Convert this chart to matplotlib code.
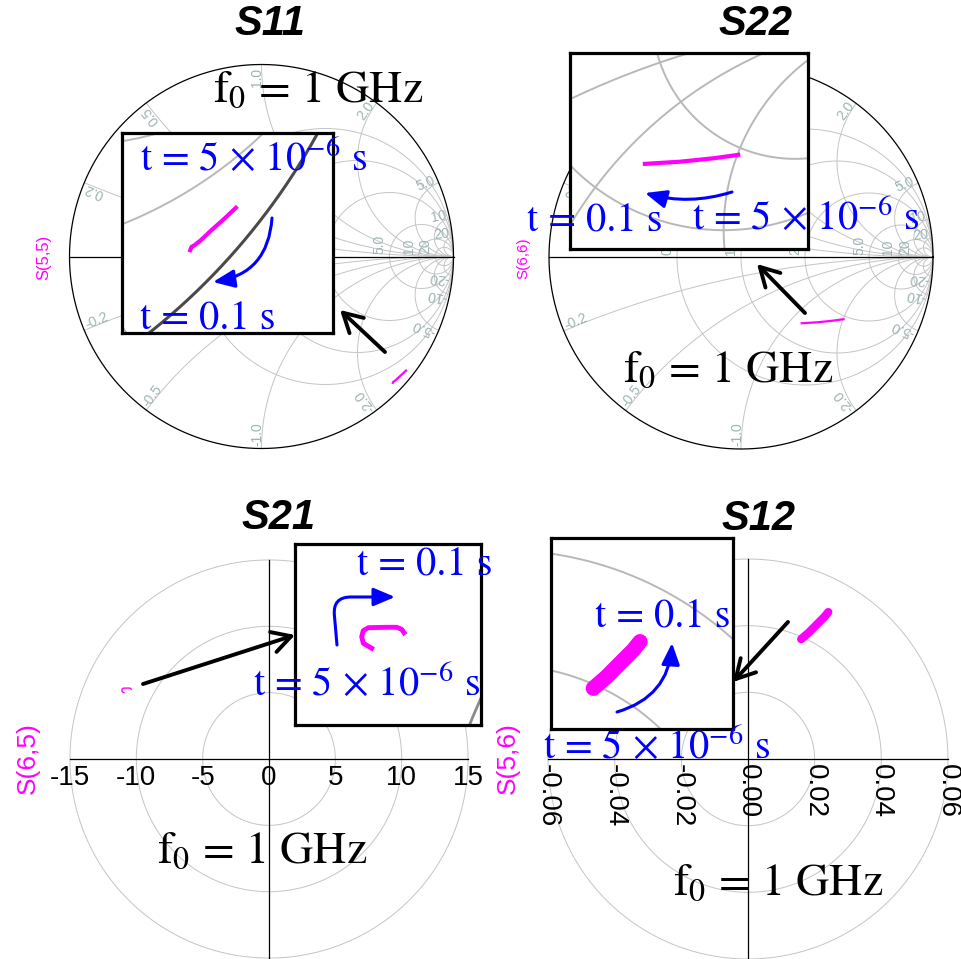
import numpy as np
import matplotlib.pyplot as plt
from matplotlib.patches import FancyArrowPatch

plt.rcParams['font.family'] = 'Liberation Sans'
plt.rcParams['mathtext.fontset'] = 'stix'

# traces from t = 5e-6 s to t = 0.1 s
s11_re = [0.753, 0.735, 0.717, 0.700, 0.690, 0.686, 0.684]
s11_im = [-0.594, -0.611, -0.627, -0.643, -0.651, -0.653, -0.658]
s22_re = [0.534, 0.476, 0.398, 0.316]
s22_im = [-0.324, -0.332, -0.340, -0.345]
s21_re = [-10.925, -11.066, -11.093, -11.066, -10.982, -10.674, -10.507, -10.423, -10.384]
s21_im = [4.993, 5.077, 5.187, 5.288, 5.338, 5.345, 5.345, 5.311, 5.254]
s12_re = [0.01596, 0.01829, 0.0206, 0.02291, 0.02408]
s12_im = [0.03596, 0.03798, 0.04031, 0.04262, 0.04407]

# smith chart grid
smith_r = [0.5, 1, 2, 5, 10, 20]
smith_x = [0.2, 0.5, 1, 2, 5, 10, 20]
smith_r_labels = [0.5, 1, 2, 5, 10, 20]

# polar grids
s21_rings = [5, 10, 15]
s21_ticks = [-15, -10, -5, 0, 5, 10, 15]
s21_ticklabels = ['-15', '-10', '-5', '0', '5', '10', '15']
s12_rings = [0.02, 0.04, 0.06]
s12_ticks = [-0.06, -0.04, -0.02, 0.0, 0.02, 0.04, 0.06]
s12_ticklabels = ['-0.06', '-0.04', '-0.02', '0.00', '0.02', '0.04', '0.06']

MAG = '#ff00ff'
BLUE = '#0000ff'
GRID = '#c4c4c4'
LAB = '#9fb3b3'

W, H = 961, 959
fig = plt.figure(figsize=(W / 100, H / 100), dpi=100)


def fxy(x, y):
    return (x / W, 1 - y / H)


def add_view(x0, y0, x1, y1, left, top, scale, frame=False):
    # axes on pixel box (x0,y0)-(x1,y1); data (left, top) at the top-left corner
    ax = fig.add_axes([x0 / W, 1 - y1 / H, (x1 - x0) / W, (y1 - y0) / H])
    ax.set_xlim(left, left + (x1 - x0) / scale)
    ax.set_ylim(top - (y1 - y0) / scale, top)
    if frame:
        ax.set_xticks([])
        ax.set_yticks([])
        for sp in ax.spines.values():
            sp.set_linewidth(2.3)
            sp.set_color('black')
    else:
        ax.axis('off')
    return ax


def main_view(cx, cy, scale, lim):
    return add_view(cx - lim * scale, cy - lim * scale, cx + lim * scale, cy + lim * scale,
                    -lim, lim, scale)


def smith_grid(ax, lw, color, rim_color='black', rim_lw=0.9):
    t = np.linspace(0, 2 * np.pi, 721)
    for r in smith_r:
        c, rad = r / (1 + r), 1 / (1 + r)
        ax.plot(c + rad * np.cos(t), rad * np.sin(t), color=color, lw=lw)
    rr = np.concatenate([[0], np.geomspace(1e-3, 1e4, 900)])
    for x in smith_x:
        for s in (1, -1):
            z = rr + 1j * s * x
            g = (z - 1) / (z + 1)
            ax.plot(g.real, g.imag, color=color, lw=lw)
    ax.plot(np.cos(t), np.sin(t), color=rim_color, lw=rim_lw)
    ax.plot([-1, 1], [0, 0], color='black', lw=0.9)


def smith_labels(ax):
    for x in smith_x:
        txt = f'{x:.1f}' if x < 10 else f'{x:.0f}'
        for s in (1, -1):
            th = 2 * np.arctan(1 / (s * x))
            px, py = 0.985 * np.cos(th), 0.985 * np.sin(th)
            if s > 0:
                ax.text(px, py, txt, rotation=np.degrees(th), ha='right', va='baseline',
                        rotation_mode='anchor', fontsize=10, color=LAB)
            else:
                ax.text(px, py, '-' + txt, rotation=np.degrees(th) + 180, ha='left',
                        va='baseline', rotation_mode='anchor', fontsize=10, color=LAB)
    for r in smith_r_labels:
        g = (r - 1) / (r + 1)
        txt = f'{r:.1f}' if r < 10 else f'{r:.0f}'
        ax.text(g - 0.03, 0.012, txt, rotation=90, ha='left', va='baseline',
                rotation_mode='anchor', fontsize=10, color=LAB)


def polar_grid(ax, rings, lw, color):
    t = np.linspace(0, 2 * np.pi, 721)
    for r in rings:
        ax.plot(r * np.cos(t), r * np.sin(t), color=color, lw=lw)
    R = rings[-1]
    ax.plot([-R, R], [0, 0], color='black', lw=0.9)
    ax.plot([0, 0], [-R, R], color='black', lw=0.9)


# ---- S11 ----
ax = main_view(261.5, 256.5, 192, 1.05)
smith_grid(ax, 0.7, GRID)
smith_labels(ax)
ax.plot(s11_re, s11_im, color=MAG, lw=1.6)

# ---- S22 ----
ax = main_view(741, 257, 192, 1.05)
smith_grid(ax, 0.7, GRID)
smith_labels(ax)
ax.plot(s22_re, s22_im, color=MAG, lw=1.6)

# ---- S21 ----
ax = main_view(269, 759, 13.27, 15.4)
polar_grid(ax, s21_rings, 0.7, GRID)
for v, lab in zip(s21_ticks, s21_ticklabels):
    ax.text(v, -0.45, lab, ha='center', va='top', fontsize=20)
ax.plot(s21_re, s21_im, color=MAG, lw=1.0)

# ---- S12 ----
ax = main_view(748, 759, 3333, 0.0615)
polar_grid(ax, s12_rings, 0.7, GRID)
for v, lab in zip(s12_ticks, s12_ticklabels):
    ax.text(v, -0.0014, lab, ha='center', va='top', rotation=270, fontsize=20)
ax.plot(s12_re, s12_im, color=MAG, lw=6, solid_capstyle='round')

# ---- zoomed views ----
ax = add_view(122, 133, 333, 333, 0.581, -0.481, 662, frame=True)
smith_grid(ax, 1.4, '#b8b8b8', rim_color='#4a4a4a', rim_lw=2.2)
ax.plot(s11_re, s11_im, color=MAG, lw=3)

ax = add_view(570, 53, 808, 249, 0.141, -0.086, 428, frame=True)
smith_grid(ax, 1.4, '#b8b8b8')
ax.plot(s22_re, s22_im, color=MAG, lw=3)

ax = add_view(295, 544, 481, 725, -12.21, 6.74, 59.7, frame=True)
polar_grid(ax, s21_rings, 2.0, '#8a8a8a')
ax.plot(s21_re, s21_im, color=MAG, lw=3.5)

ax = add_view(551, 538, 733, 729, 0.0086, 0.0621, 5750, frame=True)
polar_grid(ax, s12_rings, 1.4, '#b8b8b8')
ax.plot(s12_re, s12_im, color=MAG, lw=11, solid_capstyle='round')

# ---- titles and axis names ----
for name, x, y in [('S11', 270, 24), ('S22', 755, 24), ('S21', 278, 518), ('S12', 758, 519)]:
    fig.text(*fxy(x, y), name, ha='center', va='center', fontsize=30,
             fontweight='bold', fontstyle='italic')
for name, x, y, fs in [('S(5,5)', 44, 257, 12), ('S(6,6)', 523, 258, 11),
                       ('S(6,5)', 28, 758, 19), ('S(5,6)', 508, 758, 19)]:
    fig.text(*fxy(x, y), name, ha='center', va='center', rotation=90, fontsize=fs, color=MAG)

# ---- annotations ----
f0 = r'$\mathrm{f}_0$ = 1 GHz'
t_end = 't = 0.1 s'
t_start = r't = 5 × $10^{-6}$ s'
for s, x, y, c in [(f0, 213, 102, 'black'), (f0, 623, 382, 'black'),
                   (f0, 157, 863, 'black'), (f0, 673, 895, 'black'),
                   (t_start, 140, 170, BLUE), (t_end, 140, 329, BLUE),
                   (t_end, 527, 232, BLUE), (t_start, 692, 229, BLUE),
                   (t_end, 357, 575, BLUE), (t_start, 253, 695, BLUE),
                   (t_end, 595, 627, BLUE), (t_start, 543, 758, BLUE)]:
    fig.text(*fxy(x, y), s, ha='left', va='baseline', color=c, family='STIXGeneral',
             fontsize=33 if c == 'black' else 29)

for a, b in [((385, 352), (340, 310)), ((805, 313), (757, 264)),
             ((143, 684), (295, 635)), ((788, 622), (733, 682))]:
    fig.add_artist(FancyArrowPatch(fxy(*a), fxy(*b), transform=fig.transFigure,
                                   arrowstyle='->,head_length=0.9,head_width=0.5',
                                   mutation_scale=15, lw=2.8, color='black',
                                   shrinkA=0, shrinkB=0))

for a, b, cs in [((272, 218), (213, 282), 'arc3,rad=-0.4'),
                 ((732, 192), (645, 193), 'arc3,rad=-0.15'),
                 ((337, 645), (395, 597), 'angle,angleA=95,angleB=0,rad=18'),
                 ((617, 712), (672, 643), 'arc3,rad=0.35')]:
    fig.add_artist(FancyArrowPatch(fxy(*a), fxy(*b), transform=fig.transFigure,
                                   connectionstyle=cs,
                                   arrowstyle='-|>,head_length=1.3,head_width=0.55',
                                   mutation_scale=10, lw=2.2, color=BLUE,
                                   shrinkA=0, shrinkB=0))

fig.savefig('out.png', dpi=100, facecolor='white')
